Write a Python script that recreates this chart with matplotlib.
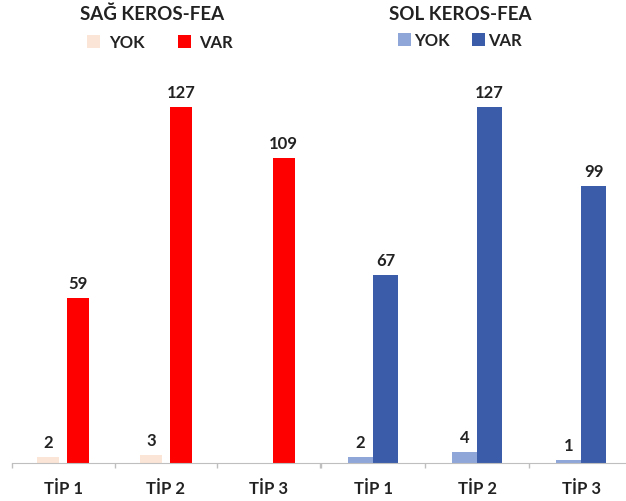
import matplotlib.pyplot as plt
from matplotlib.ticker import FixedLocator

# veriler
tipler = ['TİP 1', 'TİP 2', 'TİP 3']
sag_yok = [2, 3, 0]
sag_var = [59, 127, 109]
sol_yok = [2, 4, 1]
sol_var = [67, 127, 99]

plt.rcParams['font.family'] = ['Lato', 'DejaVu Sans']
plt.rcParams['font.weight'] = 'bold'
YAZI = '#222222'
CIZGI = '#bfbfbf'


def grafik(ax, yok, var, renk_yok, renk_var, genislik, kayma):
    x = range(len(tipler))
    b1 = ax.bar([i - kayma for i in x], yok, width=genislik, color=renk_yok, label='YOK')
    b2 = ax.bar([i + kayma for i in x], var, width=genislik, color=renk_var, label='VAR')
    ax.bar_label(b1, labels=[str(v) if v > 0 else '' for v in yok], padding=5,
                 fontsize=12, fontweight='bold', color=YAZI)
    ax.bar_label(b2, labels=[str(v) for v in var], padding=5,
                 fontsize=12, fontweight='bold', color=YAZI)
    ax.set_xlim(-0.5, 2.5)
    ax.set_ylim(0, 144.3)
    ax.set_xticks(list(x))
    ax.set_xticklabels(tipler, fontsize=12, fontweight='bold', color=YAZI)
    ax.xaxis.set_minor_locator(FixedLocator([-0.5, 0.5, 1.5, 2.5]))
    ax.tick_params(axis='x', which='major', length=0, pad=12)
    ax.tick_params(axis='x', which='minor', length=3.5, color=CIZGI, width=1)
    ax.set_yticks([])
    for s in ['left', 'right', 'top']:
        ax.spines[s].set_visible(False)
    ax.spines['bottom'].set_color(CIZGI)
    ax.patch.set_alpha(0)


fig = plt.figure(figsize=(6.26, 5.02), dpi=100)
alt = 38 / 502
yuk = (464 - 60) / 502
ax1 = fig.add_axes([12 / 626, alt, 308 / 626, yuk])
ax2 = fig.add_axes([321 / 626, alt, 312 / 626, yuk])

grafik(ax1, sag_yok, sag_var, '#fbe5d6', '#ff0000', 0.215, 0.147)
grafik(ax2, sol_yok, sol_var, '#8fa6d9', '#3a5ca9', 0.235, 0.122)

fig.text(152 / 626, 1 - 14 / 502, 'SAĞ KEROS-FEA', ha='center', va='center',
         fontsize=13.5, fontweight='bold', color=YAZI)
fig.text(460 / 626, 1 - 14 / 502, 'SOL KEROS-FEA', ha='center', va='center',
         fontsize=13.5, fontweight='bold', color=YAZI)

ax1.legend(loc='center', bbox_to_anchor=(160 / 626, 1 - 43 / 502), bbox_transform=fig.transFigure,
           ncol=2, frameon=False, handlelength=0.8, handleheight=0.8, handletextpad=0.5,
           columnspacing=2.0, prop={'size': 12, 'weight': 'bold'}, labelcolor=YAZI)
ax2.legend(loc='center', bbox_to_anchor=(460 / 626, 1 - 41 / 502), bbox_transform=fig.transFigure,
           ncol=2, frameon=False, handlelength=0.8, handleheight=0.8, handletextpad=0.2,
           columnspacing=1.3, prop={'size': 12, 'weight': 'bold'}, labelcolor=YAZI)

fig.savefig('out.png', dpi=100)
